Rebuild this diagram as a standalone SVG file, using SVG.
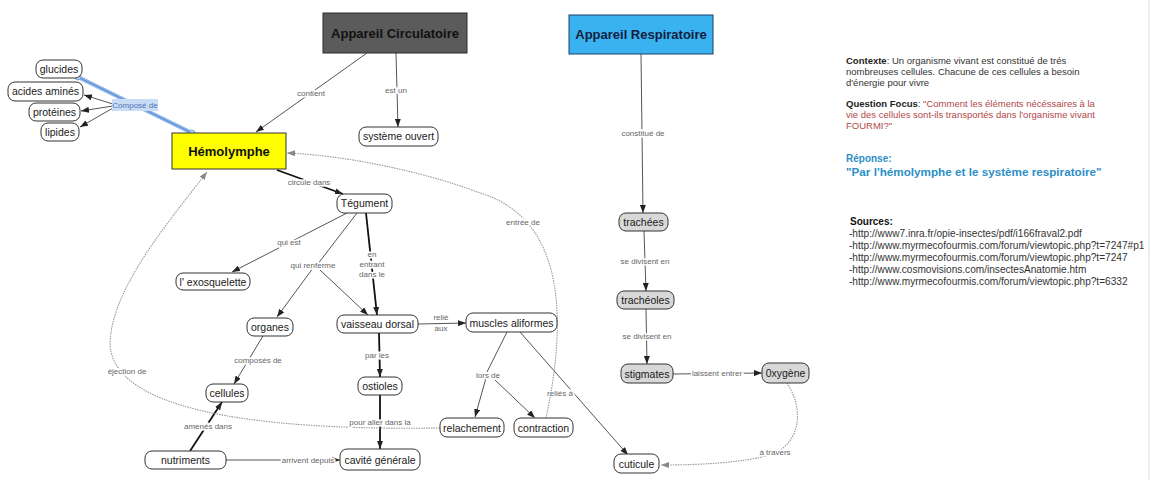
<svg xmlns="http://www.w3.org/2000/svg" width="1151" height="480" viewBox="0 0 1151 480">
<style>
.n rect{fill:#fff;stroke:#333;stroke-width:1}
.n.g rect{fill:#d8d8d8}
.n text{font-family:"Liberation Sans",Arial,sans-serif;font-size:10.5px;fill:#1a1a1a;text-anchor:middle}
.h text{font-family:"Liberation Sans",Arial,sans-serif;font-size:13px;font-weight:bold;text-anchor:middle}
.c line,.c path{fill:none}
.t{stroke:#555;stroke-width:1}
.k{stroke:#111;stroke-width:1.8}
.d{stroke:#999;stroke-width:1.1;stroke-dasharray:1.5 1}
.lb{font-family:"Liberation Sans",Arial,sans-serif;font-size:8px;fill:#666;text-anchor:middle;stroke:#fff;stroke-width:3;paint-order:stroke}
.side{font-family:"Liberation Sans",Arial,sans-serif;font-size:9.5px;fill:#333}
.red{fill:#b04848}
.src{font-family:"Liberation Sans",Arial,sans-serif;font-size:10.1px;fill:#333}
</style>
<defs>
<marker id="a" markerUnits="userSpaceOnUse" markerWidth="8" markerHeight="6" refX="8" refY="3" orient="auto"><path d="M0,0 L8,3 L0,6 z" fill="#222"/></marker>
<marker id="ag" markerUnits="userSpaceOnUse" markerWidth="8" markerHeight="6" refX="8" refY="3" orient="auto"><path d="M0,0 L8,3 L0,6 z" fill="#888"/></marker>
</defs>
<rect width="1151" height="480" fill="#fff"/>
<line x1="1149" y1="0" x2="1149" y2="480" stroke="#ddd" stroke-width="1"/>

<g id="connectors" class="c">
<!-- Composé de (selected) -->
<line x1="78" y1="77" x2="192" y2="133" stroke="#8db6ea" stroke-width="4"/>
<line x1="78" y1="77" x2="192" y2="133" stroke="#5a8ad0" stroke-width="1"/>
<circle cx="78" cy="77" r="3" fill="#b9d2f2" stroke="#6a95d6" stroke-width="0.8"/>
<circle cx="192" cy="133" r="3" fill="#b9d2f2" stroke="#6a95d6" stroke-width="0.8"/>
<line class="t" x1="113" y1="104" x2="84" y2="95" marker-end="url(#a)"/>
<line class="t" x1="113" y1="106" x2="81" y2="111" marker-end="url(#a)"/>
<line class="t" x1="113" y1="108" x2="80" y2="127" marker-end="url(#a)"/>
<rect x="112" y="99" width="46" height="12" fill="#c9dcf5"/>
<text x="135" y="108" font-family="Liberation Sans, Arial, sans-serif" font-size="8px" fill="#4f73b8" text-anchor="middle">Composé de</text>

<!-- contient -->
<line class="t" x1="367" y1="53" x2="256" y2="132" marker-end="url(#a)"/>
<text class="lb" x="311" y="96">contient</text>
<!-- est un -->
<line class="t" x1="396" y1="53" x2="398" y2="127" marker-end="url(#a)"/>
<text class="lb" x="396" y="93">est un</text>
<!-- circule dans -->
<line class="k" x1="277" y1="170" x2="343" y2="194" marker-end="url(#a)"/>
<text class="lb" x="309" y="185">circule dans</text>
<!-- qui est -->
<line class="t" x1="347" y1="213" x2="232" y2="272" marker-end="url(#a)"/>
<text class="lb" x="289" y="245">qui est</text>
<!-- qui renferme -->
<line class="t" x1="357" y1="213" x2="317" y2="265"/>
<line class="t" x1="313" y1="268" x2="277" y2="317" marker-end="url(#a)"/>
<line class="t" x1="320" y1="270" x2="368" y2="315" marker-end="url(#a)"/>
<text class="lb" x="313" y="268">qui renferme</text>
<!-- en entrant dans le -->
<line class="k" x1="366" y1="213" x2="377" y2="315" marker-end="url(#a)"/>
<text class="lb" x="372" y="257">en</text>
<text class="lb" x="372" y="267">entrant</text>
<text class="lb" x="372" y="277">dans le</text>
<!-- composés de -->
<line class="t" x1="263" y1="336" x2="234" y2="384" marker-end="url(#a)"/>
<text class="lb" x="258" y="363">composés de</text>
<!-- amenés dans -->
<line class="k" x1="190" y1="451" x2="222" y2="402" marker-end="url(#a)"/>
<text class="lb" x="208" y="429">amenés dans</text>
<!-- arrivent depuis -->
<line class="t" x1="226" y1="460" x2="340" y2="460" marker-end="url(#a)"/>
<text class="lb" x="308" y="463">arrivent depuis</text>
<!-- par les -->
<line class="k" x1="379" y1="333" x2="380" y2="377" marker-end="url(#a)"/>
<text class="lb" x="377" y="358">par les</text>
<!-- pour aller dans la -->
<line class="k" x1="380" y1="395" x2="380" y2="449" marker-end="url(#a)"/>
<!-- relié aux -->
<line class="t" x1="418" y1="324" x2="466" y2="323" marker-end="url(#a)"/>
<text class="lb" x="441" y="320">relié</text>
<text class="lb" x="441" y="331">aux</text>
<!-- lors de -->
<line class="t" x1="507" y1="332" x2="487" y2="372"/>
<line class="t" x1="486" y1="378" x2="475" y2="417" marker-end="url(#a)"/>
<line class="t" x1="495" y1="380" x2="535" y2="418" marker-end="url(#a)"/>
<text class="lb" x="488" y="378">lors de</text>
<!-- reliés à -->
<line class="t" x1="520" y1="332" x2="628" y2="455" marker-end="url(#a)"/>
<text class="lb" x="560" y="396">reliés à</text>
<!-- respiratory -->
<line class="t" x1="641" y1="54" x2="643" y2="213" marker-end="url(#a)"/>
<text class="lb" x="643" y="136">constitué de</text>
<line class="t" x1="644" y1="231" x2="646" y2="291" marker-end="url(#a)"/>
<text class="lb" x="645" y="264">se divisent en</text>
<line class="t" x1="646" y1="309" x2="647" y2="364" marker-end="url(#a)"/>
<text class="lb" x="647" y="339">se divisent en</text>
<line class="t" x1="673" y1="374" x2="762" y2="373" marker-end="url(#a)"/>
<text class="lb" x="717" y="376">laissent entrer</text>
<!-- dotted -->
<path class="d" d="M787,383 C805,410 800,445 770,455 C740,463 700,465 661,465" marker-end="url(#ag)"/>
<text class="lb" x="775" y="455">à travers</text>
<path class="d" d="M546,418 C565,330 570,220 480,193 C420,170 340,155 287,153" marker-end="url(#ag)"/>
<text class="lb" x="523" y="225">entrée de</text>
<path class="d" d="M440,428 C300,430 115,420 110,345 C110,290 170,220 207,172" marker-end="url(#ag)"/>
<text class="lb" x="127" y="374">éjection de</text>
<text class="lb" x="380" y="425">pour aller dans la</text>
</g>

<g id="appareil-circulatoire" class="h"><rect x="323" y="13" width="144" height="40" fill="#5b5b5b" stroke="#2a2a2a"/><text x="395" y="38" fill="#111">Appareil Circulatoire</text></g>
<g id="appareil-respiratoire" class="h"><rect x="569" y="15" width="144" height="39" fill="#3bb2f0" stroke="#1d3f66"/><text x="641" y="39" fill="#0f1f3d">Appareil Respiratoire</text></g>
<g id="hemolymphe" class="h"><rect x="172" y="133" width="114" height="36" fill="#ffff00" stroke="#333"/><text x="229" y="156" fill="#111">Hémolymphe</text></g>

<g id="glucides" class="n"><rect x="36" y="60" width="46" height="18" rx="7"/><text x="59" y="73">glucides</text></g>
<g id="acides-amines" class="n"><rect x="8" y="82" width="75" height="19" rx="7"/><text x="45.5" y="95">acides aminés</text></g>
<g id="proteines" class="n"><rect x="29" y="103" width="51" height="18" rx="7"/><text x="54.5" y="116">protéines</text></g>
<g id="lipides" class="n"><rect x="41" y="123" width="38" height="18" rx="7"/><text x="60" y="136">lipides</text></g>
<g id="systeme-ouvert" class="n"><rect x="359" y="127" width="79" height="19" rx="7"/><text x="398.5" y="140">système ouvert</text></g>
<g id="tegument" class="n"><rect x="337" y="194" width="55" height="19" rx="7"/><text x="364.5" y="207">Tégument</text></g>
<g id="exosquelette" class="n"><rect x="176" y="273" width="74" height="17" rx="7"/><text x="213" y="285.5">l' exosquelette</text></g>
<g id="organes" class="n"><rect x="247" y="318" width="46" height="18" rx="7"/><text x="270" y="331">organes</text></g>
<g id="vaisseau-dorsal" class="n"><rect x="337" y="315" width="81" height="18" rx="7"/><text x="377.5" y="328">vaisseau dorsal</text></g>
<g id="cellules" class="n"><rect x="206" y="384" width="42" height="18" rx="7"/><text x="227" y="397">cellules</text></g>
<g id="ostioles" class="n"><rect x="358" y="377" width="44" height="18" rx="7"/><text x="380" y="390">ostioles</text></g>
<g id="cavite-generale" class="n"><rect x="340" y="449" width="80" height="21" rx="7"/><text x="380" y="463.5">cavité générale</text></g>
<g id="nutriments" class="n"><rect x="145" y="451" width="81" height="18" rx="7"/><text x="185.5" y="464">nutriments</text></g>
<g id="muscles-aliformes" class="n"><rect x="466" y="313" width="91" height="19" rx="7"/><text x="511.5" y="326.5">muscles aliformes</text></g>
<g id="relachement" class="n"><rect x="440" y="418" width="64" height="19" rx="7"/><text x="472" y="431.5">relachement</text></g>
<g id="contraction" class="n"><rect x="514" y="418" width="59" height="19" rx="7"/><text x="543.5" y="431.5">contraction</text></g>
<g id="cuticule" class="n"><rect x="614" y="454" width="45" height="19" rx="7"/><text x="636.5" y="467.5">cuticule</text></g>
<g id="trachees" class="n g"><rect x="619" y="213" width="49" height="18" rx="7"/><text x="643.5" y="226">trachées</text></g>
<g id="tracheoles" class="n g"><rect x="617" y="291" width="57" height="18" rx="7"/><text x="645.5" y="304">trachéoles</text></g>
<g id="stigmates" class="n g"><rect x="621" y="364" width="52" height="19" rx="7"/><text x="647" y="377.5">stigmates</text></g>
<g id="oxygene" class="n g"><rect x="762" y="363" width="47" height="20" rx="7"/><text x="785.5" y="377">0xygène</text></g>

<g id="context">
<text class="side" x="846" y="63.5"><tspan font-weight="bold" style="fill:#222">Contexte</tspan>: Un organisme vivant est constitué de trés</text>
<text class="side" x="846" y="74.5">nombreuses cellules. Chacune de ces cellules a besoin</text>
<text class="side" x="846" y="85.5">d'énergie pour vivre</text>
<text class="side" x="846" y="106.5"><tspan font-weight="bold" style="fill:#222">Question Focus</tspan>: <tspan class="red">"Comment les éléments nécéssaires à la</tspan></text>
<text class="side red" x="846" y="117.5">vie des cellules sont-ils transportés dans l'organisme vivant</text>
<text class="side red" x="846" y="128.5">FOURMI?"</text>
<text x="846" y="162" font-family="Liberation Sans, Arial, sans-serif" font-size="10px" font-weight="bold" fill="#2c8fc6">Réponse:</text>
<text x="846" y="176" font-family="Liberation Sans, Arial, sans-serif" font-size="11.7px" font-weight="bold" fill="#2c8fc6">"Par l'hémolymphe et le système respiratoire"</text>
</g>
<g id="sources">
<text x="850" y="224.5" font-family="Liberation Sans, Arial, sans-serif" font-size="10px" font-weight="bold" fill="#111">Sources:</text>
<text class="src" x="849" y="236.5">-http://www7.inra.fr/opie-insectes/pdf/i166fraval2.pdf</text>
<text class="src" x="849" y="248.5">-http://www.myrmecofourmis.com/forum/viewtopic.php?t=7247#p1</text>
<text class="src" x="849" y="260.5">-http://www.myrmecofourmis.com/forum/viewtopic.php?t=7247</text>
<text class="src" x="849" y="272.5">-http://www.cosmovisions.com/insectesAnatomie.htm</text>
<text class="src" x="849" y="285">-http://www.myrmecofourmis.com/forum/viewtopic.php?t=6332</text>
</g>
</svg>
